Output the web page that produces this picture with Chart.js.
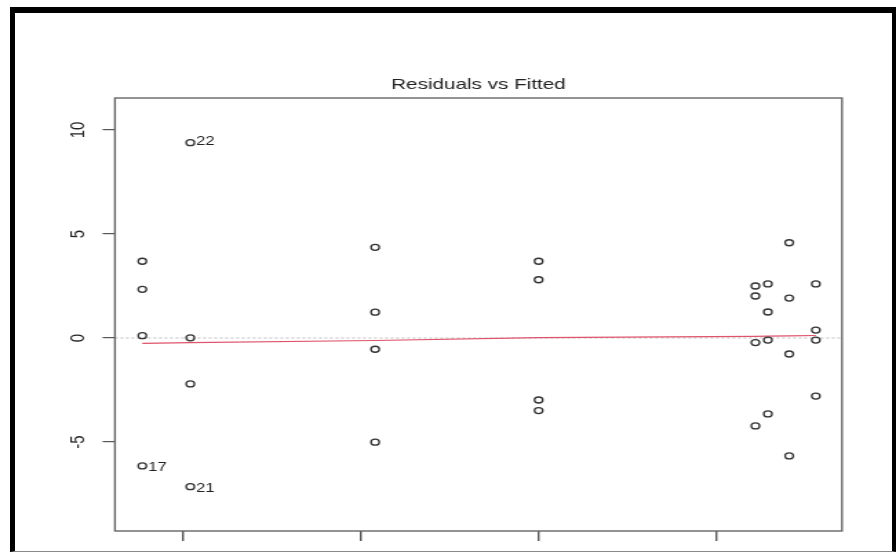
<!DOCTYPE html>
<html>
<head>
<meta charset="utf-8">
<script src="https://cdn.jsdelivr.net/npm/chart.js@4/dist/chart.umd.min.js"></script>
<style>
  html, body { margin: 0; padding: 0; background: #fff; overflow: hidden; }
  #stage { position: relative; width: 896px; height: 552px; }
  /* the reference was stretched horizontally, so the plot is drawn narrow and scaled */
  #wrap { position: absolute; left: 0; top: 0; width: 650px; height: 552px;
          transform: scaleX(1.378462); transform-origin: 0 0; }
  #frame { position: absolute; left: 10px; top: 7px; width: 886px; height: 545px;
           box-sizing: border-box; border-top: 6px solid #000; border-left: 5px solid #000;
           border-right: 4px solid #000; border-bottom: 1px solid #888; pointer-events: none; }
</style>
</head>
<body>
<div id="stage">
  <div id="wrap"><canvas id="c" width="650" height="552"></canvas></div>
  <div id="frame"></div>
</div>
<script>
  // Fitted values (8 groups of 4) and their residuals
  const fitted = [
    0.77, 0.77, 0.77, 0.77,
    1.04, 1.04, 1.04, 1.04,
    2.08, 2.08, 2.08, 2.08,
    3.00, 3.00, 3.00, 3.00,
    4.22, 4.22, 4.22, 4.22,
    4.29, 4.29, 4.29, 4.29,
    4.41, 4.41, 4.41, 4.41,
    4.56, 4.56, 4.56, 4.56
  ];
  const residuals = [
    3.69, 2.34, 0.11, -6.15,
    9.39, 0.01, -2.21, -7.15,
    4.36, 1.24, -0.54, -5.01,
    3.69, 2.80, -2.98, -3.49,
    2.50, 2.02, -0.22, -4.23,
    2.60, 1.25, -0.10, -3.65,
    4.58, 1.92, -0.77, -5.67,
    2.60, 0.38, -0.10, -2.79
  ];

  // lowess smoother (red line)
  const smoothX = [0.77, 1.04, 2.08, 3.00, 4.22, 4.29, 4.41, 4.56];
  const smoothY = [-0.26, -0.22, -0.12, 0.02, 0.08, 0.09, 0.10, 0.12];

  // labelled extreme points
  const labelIndex = [3, 4, 7];
  const labelText = ['17', '22', '21'];

  const yTicks = [-5, 0, 5, 10];
  const xTicks = [1, 2, 3, 4];
  const xMin = 0.616, xMax = 4.707;
  const yMin = -9.28, yMax = 11.54;

  const FONT = '"Liberation Sans", Arial, Helvetica, sans-serif';

  const points = fitted.map(function (x, i) { return { x: x, y: residuals[i] }; });
  const smooth = smoothX.map(function (x, i) { return { x: x, y: smoothY[i] }; });

  const decor = {
    id: 'decor',
    afterDraw: function (chart) {
      const ctx = chart.ctx;
      const a = chart.chartArea;
      const ys = chart.scales.y;

      // plot box
      ctx.save();
      ctx.strokeStyle = '#666';
      ctx.lineWidth = 1.4;
      ctx.strokeRect(a.left, a.top, a.right - a.left, a.bottom - a.top);

      // rotated y tick labels
      ctx.fillStyle = '#222';
      ctx.font = '15px ' + FONT;
      ctx.textAlign = 'center';
      ctx.textBaseline = 'middle';
      yTicks.forEach(function (v) {
        ctx.save();
        ctx.translate(a.left - 26.5, ys.getPixelForValue(v));
        ctx.rotate(-Math.PI / 2);
        ctx.fillText(String(v), 0, 0);
        ctx.restore();
      });

      // point id labels
      const meta = chart.getDatasetMeta(0);
      ctx.font = '12px ' + FONT;
      ctx.textAlign = 'left';
      labelIndex.forEach(function (idx, k) {
        const el = meta.data[idx];
        const dy = residuals[idx] < 0 ? 2 : -1;
        ctx.fillText(labelText[k], el.x + 4.2, el.y + dy);
      });
      ctx.restore();
    }
  };

  new Chart(document.getElementById('c'), {
    type: 'scatter',
    data: {
      datasets: [
        {
          data: points,
          pointStyle: 'circle',
          pointRadius: 3,
          pointBorderWidth: 1.3,
          pointBorderColor: '#333',
          pointBackgroundColor: 'rgba(0,0,0,0)',
          order: 0
        },
        {
          type: 'line',
          data: smooth,
          borderColor: '#DF536B',
          borderWidth: 1.2,
          pointRadius: 0,
          fill: false,
          tension: 0,
          order: 1
        },
        {
          type: 'line',
          data: [{ x: xMin, y: 0 }, { x: xMax, y: 0 }],
          borderColor: '#bbb',
          borderWidth: 1,
          borderDash: [2, 2],
          pointRadius: 0,
          fill: false,
          order: 2
        }
      ]
    },
    options: {
      responsive: false,
      animation: false,
      events: [],
      layout: { padding: { left: 0, right: 39.2, top: 0, bottom: 0 }, autoPadding: false },
      plugins: {
        legend: { display: false },
        tooltip: { enabled: false },
        title: {
          display: true,
          fullSize: false,
          text: 'Residuals vs Fitted',
          color: '#222',
          font: { family: FONT, size: 15, weight: 'normal', lineHeight: 1.2 },
          padding: { top: 76, bottom: 4 }
        }
      },
      scales: {
        x: {
          type: 'linear',
          min: xMin,
          max: xMax,
          afterBuildTicks: function (s) { s.ticks = xTicks.map(function (v) { return { value: v }; }); },
          afterFit: function (s) { s.height = 21; },
          ticks: { display: false },
          grid: { drawOnChartArea: false, drawTicks: true, tickLength: 10, color: '#555', lineWidth: 1.4 },
          border: { display: false }
        },
        y: {
          type: 'linear',
          min: yMin,
          max: yMax,
          afterBuildTicks: function (s) { s.ticks = yTicks.map(function (v) { return { value: v }; }); },
          afterFit: function (s) { s.width = 83.4; },
          ticks: { display: false },
          grid: { drawOnChartArea: false, drawTicks: true, tickLength: 9, color: '#555', lineWidth: 1.2 },
          border: { display: false }
        }
      }
    },
    plugins: [decor]
  });
</script>
</body>
</html>
